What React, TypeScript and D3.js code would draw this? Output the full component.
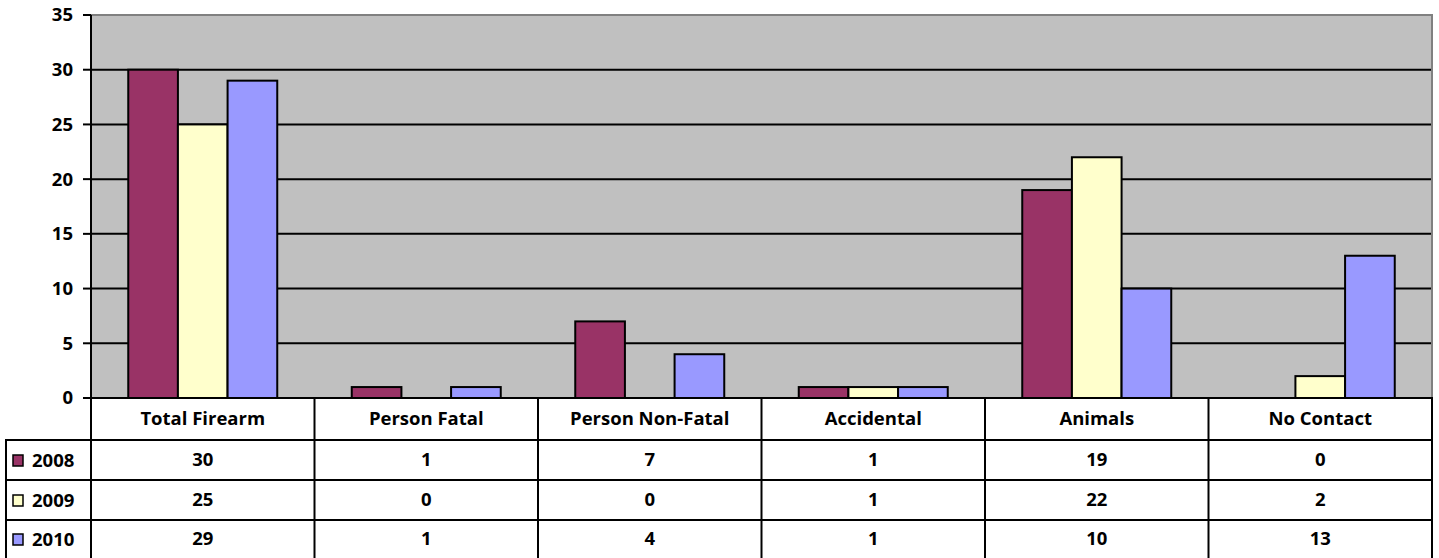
import React, { useEffect, useRef } from 'react';
import * as d3 from 'd3';

const categories = ['Total Firearm', 'Person Fatal', 'Person Non-Fatal', 'Accidental', 'Animals', 'No Contact'];
const seriesNames = ['2008', '2009', '2010'];
const values2008 = [30, 1, 7, 1, 19, 0];
const values2009 = [25, 0, 0, 1, 22, 2];
const values2010 = [29, 1, 4, 1, 10, 13];
const seriesColors = ['#993366', '#FFFFCC', '#9999FF'];
const yTicks = [0, 5, 10, 15, 20, 25, 30, 35];

const App = () => {
    const ref = useRef<SVGSVGElement>(null);

    useEffect(() => {
        const svg = d3.select(ref.current);
        svg.selectAll('*').remove();

        const H = 558;
        const left = 91, right = 1432, top = 15, base = 398;
        const rowY = [398, 440, 480, 520, 560];
        const tableLeft = 6;
        const font = '"Open Sans", Lato, sans-serif';
        const fs = 18.5;

        const series = [values2008, values2009, values2010];

        const x = d3.scaleBand().domain(categories).range([left, right]);
        const xs = d3.scaleBand().domain(seriesNames).range([0, x.bandwidth()]).paddingOuter(0.75);
        const y = d3.scaleLinear().domain([0, 35]).range([base, top]);

        // plot background
        svg.append('rect')
            .attr('x', left).attr('y', top)
            .attr('width', right - left).attr('height', base - top)
            .attr('fill', '#C0C0C0');

        // gridlines
        svg.selectAll('.grid')
            .data(yTicks.filter(t => t > 0 && t < 35))
            .enter()
            .append('line')
            .attr('x1', left).attr('x2', right)
            .attr('y1', d => y(d)).attr('y2', d => y(d))
            .attr('stroke', '#000').attr('stroke-width', 2);

        // top & right border (gray)
        svg.append('path')
            .attr('d', `M${left},${y(35)}H${right}V${base}`)
            .attr('fill', 'none').attr('stroke', '#808080').attr('stroke-width', 2);

        // bars
        series.forEach((vals, si) => {
            svg.selectAll(`.bar${si}`)
                .data(vals.map((v, i) => ({ v, c: categories[i] })))
                .enter()
                .append('rect')
                .attr('x', d => (x(d.c) as number) + (xs(seriesNames[si]) as number))
                .attr('y', d => y(d.v))
                .attr('width', xs.bandwidth())
                .attr('height', d => base - y(d.v))
                .attr('fill', seriesColors[si])
                .attr('stroke', '#000').attr('stroke-width', 2);
        });

        // y axis
        svg.append('line')
            .attr('x1', left).attr('x2', left)
            .attr('y1', y(35)).attr('y2', H)
            .attr('stroke', '#000').attr('stroke-width', 2);

        svg.selectAll('.tick')
            .data(yTicks)
            .enter()
            .append('line')
            .attr('x1', left - 8).attr('x2', left)
            .attr('y1', d => y(d)).attr('y2', d => y(d))
            .attr('stroke', '#000').attr('stroke-width', 2);

        svg.selectAll('.tickLabel')
            .data(yTicks)
            .enter()
            .append('text')
            .attr('x', 73)
            .attr('y', d => y(d))
            .attr('dy', '0.35em')
            .attr('text-anchor', 'end')
            .attr('font-family', font).attr('font-weight', 700).attr('font-size', fs)
            .text(d => d);

        // data table
        const grid = svg.append('g').attr('stroke', '#000').attr('stroke-width', 2);
        grid.append('rect')
            .attr('x', left).attr('y', rowY[0])
            .attr('width', right - left).attr('height', rowY[1] - rowY[0])
            .attr('fill', '#fff');
        grid.append('rect')
            .attr('x', tableLeft).attr('y', rowY[1])
            .attr('width', right - tableLeft).attr('height', rowY[4] - rowY[1])
            .attr('fill', '#fff');
        rowY.slice(2, 4).forEach(ry => {
            grid.append('line').attr('x1', tableLeft).attr('x2', right).attr('y1', ry).attr('y2', ry);
        });
        categories.forEach(c => {
            const cx = (x(c) as number) + x.bandwidth();
            grid.append('line').attr('x1', cx).attr('x2', cx).attr('y1', rowY[0]).attr('y2', H);
        });
        grid.append('line').attr('x1', left).attr('x2', left).attr('y1', rowY[0]).attr('y2', H);

        // header labels
        svg.selectAll('.cat')
            .data(categories)
            .enter()
            .append('text')
            .attr('x', d => (x(d) as number) + x.bandwidth() / 2)
            .attr('y', (rowY[0] + rowY[1]) / 2)
            .attr('dy', '0.35em')
            .attr('text-anchor', 'middle')
            .attr('font-family', font).attr('font-weight', 700).attr('font-size', fs)
            .text(d => d);

        // rows
        series.forEach((vals, si) => {
            const cy = (rowY[si + 1] + rowY[si + 2]) / 2 - (si === 2 ? 1 : 0);
            svg.append('rect')
                .attr('x', 13).attr('y', cy - 5)
                .attr('width', 10).attr('height', 11)
                .attr('fill', seriesColors[si])
                .attr('stroke', '#000').attr('stroke-width', 1.5);
            svg.append('text')
                .attr('x', 32).attr('y', cy)
                .attr('dy', '0.4em')
                .attr('font-family', font).attr('font-weight', 700).attr('font-size', fs)
                .text(seriesNames[si]);
            svg.selectAll(`.val${si}`)
                .data(vals.map((v, i) => ({ v, c: categories[i] })))
                .enter()
                .append('text')
                .attr('x', d => (x(d.c) as number) + x.bandwidth() / 2)
                .attr('y', cy)
                .attr('dy', '0.35em')
                .attr('text-anchor', 'middle')
                .attr('font-family', font).attr('font-weight', 700).attr('font-size', fs)
                .text(d => d.v);
        });
    }, []);

    return (
        <div style={{ position: 'absolute', left: 0, top: 0, background: '#fff' }}>
            <svg ref={ref} width={1439} height={558} style={{ display: 'block' }} />
        </div>
    );
};

export default App;
